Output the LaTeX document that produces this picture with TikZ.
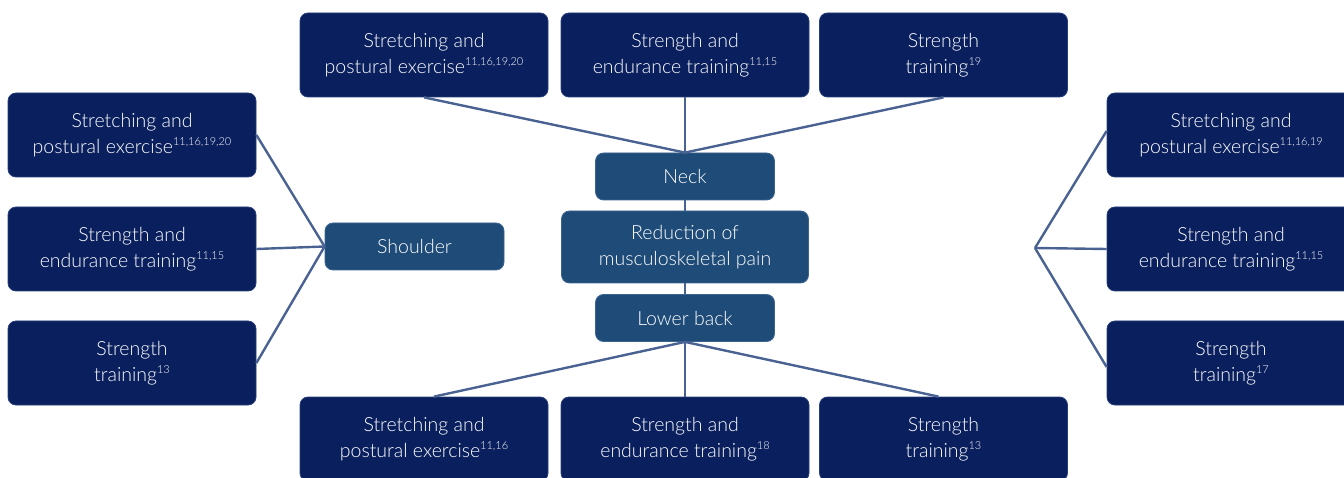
\documentclass[tikz,border=0pt]{standalone}
\usepackage{fontspec}
\setmainfont{Lato}[UprightFont=* Light]
\definecolor{navybox}{RGB}{10,32,94}
\definecolor{navyedge}{RGB}{40,62,120}
\definecolor{midbox}{RGB}{31,75,120}
\definecolor{midedge}{RGB}{60,100,145}
\definecolor{linkcol}{RGB}{74,98,146}
\newcommand\refnums[1]{\raisebox{7.5pt}{\fontsize{11}{11}\selectfont #1}}
\begin{document}
\begin{tikzpicture}[x=1pt,y=-1pt,
  dbox/.style={draw=navyedge,line width=0.8pt,fill=navybox,rounded corners=8pt,
    minimum width=248pt,minimum height=84pt,text=white,align=center,
    font=\fontsize{19.5}{26}\selectfont,inner sep=0pt},
  cbox/.style={draw=midedge,line width=0.8pt,fill=midbox,rounded corners=8pt,
    minimum width=179pt,minimum height=47pt,text=white,align=center,
    font=\fontsize{19.5}{26}\selectfont,inner sep=0pt},
  link/.style={draw=linkcol,line width=2.4pt}]
\useasboundingbox (0,0) rectangle (1344,478);
\clip (0,0) rectangle (1344,478);
% top row
\node[dbox] (t1) at (424,55) {Stretching and\\postural exercise\refnums{11,16,19,20}};
\node[dbox] (t2) at (685,55) {Strength and\\endurance training\refnums{11,15}};
\node[dbox] (t3) at (943.5,55) {Strength\\training\refnums{19}};
% left column
\node[dbox] (l1) at (132,135) {Stretching and\\postural exercise\refnums{11,16,19,20}};
\node[dbox] (l2) at (132,249) {Strength and\\endurance training\refnums{11,15}};
\node[dbox] (l3) at (132,363) {Strength\\training\refnums{13}};
% right column
\node[dbox] (r1) at (1231,135) {Stretching and\\postural exercise\refnums{11,16,19}};
\node[dbox] (r2) at (1231,249) {Strength and\\endurance training\refnums{11,15}};
\node[dbox] (r3) at (1231,363) {Strength\\training\refnums{17}};
% bottom row
\node[dbox] (b1) at (424,439) {Stretching and\\postural exercise\refnums{11,16}};
\node[dbox] (b2) at (685,439) {Strength and\\endurance training\refnums{18}};
\node[dbox] (b3) at (943.5,439) {Strength\\training\refnums{13}};
% centre
\node[cbox] (neck) at (685,176.5) {Neck};
\node[cbox,minimum width=247pt,minimum height=72pt] (red) at (685,247) {Reduction of\\musculoskeletal pain};
\node[cbox] (low) at (685,318) {Lower back};
\node[cbox] (sh) at (414.5,246.5) {Shoulder};
\coordinate (rj) at (1035,248);
% connectors
\draw[link] (t1.south) -- (neck.north);
\draw[link] (t2.south) -- (neck.north);
\draw[link] (t3.south) -- (neck.north);
\draw[link] (neck.south) -- (red.north);
\draw[link] (red.south) -- (low.north);
\draw[link] (low.south) -- ([xshift=10pt]b1.north);
\draw[link] (low.south) -- (b2.north);
\draw[link] (low.south) -- ([xshift=-5pt]b3.north);
\draw[link] (sh.west) -- (l1.east);
\draw[link] (sh.west) -- (l2.east);
\draw[link] (sh.west) -- (l3.east);
\draw[link] (rj) -- ([yshift=4pt]r1.west);
\draw[link] (rj) -- (r2.west);
\draw[link] (rj) -- ([yshift=-4pt]r3.west);
\end{tikzpicture}
\end{document}
